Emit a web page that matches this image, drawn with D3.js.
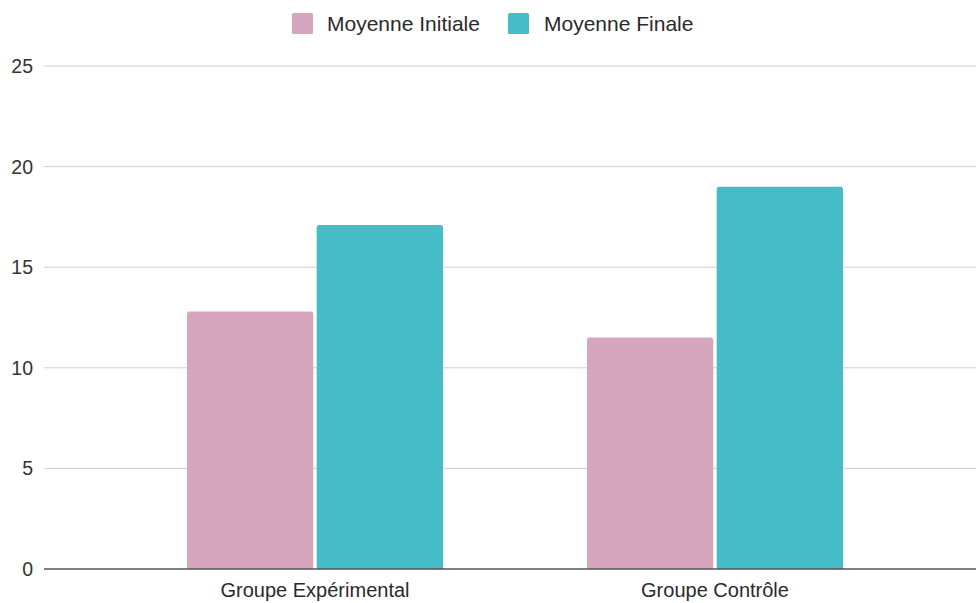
<!DOCTYPE html>
<html>
<head>
<meta charset="utf-8">
<script src="https://cdn.jsdelivr.net/npm/d3@7"></script>
<style>
  html, body { margin: 0; padding: 0; background: #fff; }
  svg { display: block; font-family: "Liberation Sans", Arial, Helvetica, sans-serif; }
</style>
</head>
<body>
<svg id="chart" width="976" height="603"></svg>
<script>
// Category labels and series values
const groups = ["Groupe Expérimental", "Groupe Contrôle"];
const seriesNames = ["Moyenne Initiale", "Moyenne Finale"];
const moyenneInitiale = [12.8, 11.5];
const moyenneFinale = [17.1, 19.0];
const yTicks = [0, 5, 10, 15, 20, 25];
const seriesColors = ["#d5a6bd", "#46bdc6"];

const svg = d3.select("#chart");
const W = 976;

const gridLeft = 44, gridRight = W;
const y = d3.scaleLinear().domain([0, 25]).range([569, 66]);

const x0 = d3.scaleBand().domain(groups).range([115, 915]).paddingInner(0.36).paddingOuter(0.18);
const x1 = d3.scaleBand().domain(seriesNames).range([0, x0.bandwidth()]).paddingInner(0.026);

const rows = groups.map((g, i) => ({
  group: g,
  values: [
    { key: seriesNames[0], value: moyenneInitiale[i] },
    { key: seriesNames[1], value: moyenneFinale[i] }
  ]
}));
const color = d3.scaleOrdinal().domain(seriesNames).range(seriesColors);

// Horizontal gridlines
svg.append("g")
  .selectAll("line")
  .data(yTicks.filter(t => t !== 0))
  .join("line")
  .attr("x1", gridLeft).attr("x2", gridRight)
  .attr("y1", d => y(d)).attr("y2", d => y(d))
  .attr("stroke", "#d0d0d0").attr("stroke-width", 1);

// Y tick labels
svg.append("g")
  .selectAll("text")
  .data(yTicks)
  .join("text")
  .attr("x", 33)
  .attr("y", d => y(d))
  .attr("dy", "0.36em")
  .attr("text-anchor", "end")
  .attr("font-size", 19.5)
  .attr("fill", "#333")
  .text(d => d);

// Bars with slightly rounded tops
function topRoundedRect(x, yTop, w, h, r) {
  r = Math.min(r, h, w / 2);
  return `M${x},${yTop + h}V${yTop + r}Q${x},${yTop} ${x + r},${yTop}` +
         `H${x + w - r}Q${x + w},${yTop} ${x + w},${yTop + r}V${yTop + h}Z`;
}

svg.append("g")
  .selectAll("g")
  .data(rows)
  .join("g")
  .attr("transform", d => `translate(${x0(d.group)},0)`)
  .selectAll("path")
  .data(d => d.values)
  .join("path")
  .attr("d", d => topRoundedRect(x1(d.key), y(d.value), x1.bandwidth(), y(0) - y(d.value), 2.5))
  .attr("fill", d => color(d.key));

// Baseline
svg.append("line")
  .attr("x1", gridLeft).attr("x2", gridRight)
  .attr("y1", y(0)).attr("y2", y(0))
  .attr("stroke", "#555").attr("stroke-width", 1.6);

// X axis category labels
const xAxis = d3.axisBottom(x0).tickSize(0).tickPadding(0);
const xg = svg.append("g").attr("transform", `translate(0,${y(0)})`).call(xAxis);
xg.select(".domain").remove();
xg.selectAll("text")
  .attr("y", 28)
  .attr("dy", 0)
  .attr("font-size", 20)
  .attr("font-family", "\"Liberation Sans\", Arial, sans-serif")
  .attr("fill", "#2a2a2a");

// Legend
const legendItems = [
  { name: seriesNames[0], sx: 292, tx: 327 },
  { name: seriesNames[1], sx: 508, tx: 544 }
];
const lg = svg.append("g");
lg.selectAll("rect")
  .data(legendItems)
  .join("rect")
  .attr("x", d => d.sx).attr("y", 13)
  .attr("width", 21).attr("height", 21)
  .attr("rx", 1.5)
  .attr("fill", d => color(d.name));
lg.selectAll("text")
  .data(legendItems)
  .join("text")
  .attr("x", d => d.tx).attr("y", 31)
  .attr("font-size", 21)
  .attr("fill", "#2a2a2a")
  .text(d => d.name);
</script>
</body>
</html>
